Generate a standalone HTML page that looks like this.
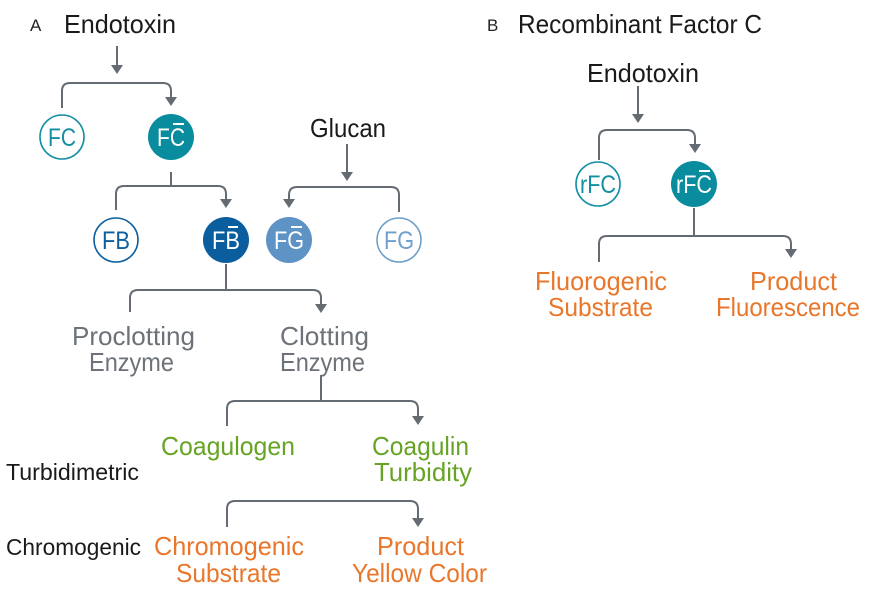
<!DOCTYPE html>
<html><head><meta charset="utf-8"><style>
html,body{margin:0;padding:0;background:#fff;}
svg{display:block;}
text{font-family:"Liberation Sans",sans-serif;}
</style></head><body>
<svg width="869" height="589" viewBox="0 0 869 589" xmlns="http://www.w3.org/2000/svg">
<g fill="none" stroke="#646b72" stroke-width="2">
<line x1="117" y1="46" x2="117" y2="66"/><path d="M111,65 L123,65 L117,74 Z" fill="#646b72" stroke="none"/>
<path d="M62,108 V91 Q62,83 70,83 H163 Q171,83 171,91 V97"/>
<path d="M165,97 L177,97 L171,106 Z" fill="#646b72" stroke="none"/>
<line x1="171" y1="172" x2="171" y2="186"/>
<path d="M116,210 V194 Q116,186 124,186 H218 Q226,186 226,194 V199"/>
<path d="M220,199 L232,199 L226,208 Z" fill="#646b72" stroke="none"/>
<line x1="347" y1="144" x2="347" y2="172"/><path d="M341,172 L353,172 L347,181 Z" fill="#646b72" stroke="none"/>
<path d="M399,212 V195 Q399,187 391,187 H297 Q289,187 289,195 V199"/>
<path d="M283,199 L295,199 L289,208 Z" fill="#646b72" stroke="none"/>
<line x1="226" y1="264" x2="226" y2="290"/>
<path d="M130,312 V298 Q130,290 138,290 H313 Q321,290 321,298 V304"/>
<path d="M315,304 L327,304 L321,313 Z" fill="#646b72" stroke="none"/>
<line x1="321" y1="375" x2="321" y2="401"/>
<path d="M227,426 V409 Q227,401 235,401 H410 Q418,401 418,409 V416"/>
<path d="M412,416 L424,416 L418,425 Z" fill="#646b72" stroke="none"/>
<path d="M227,527 V509 Q227,501 235,501 H410 Q418,501 418,509 V518"/>
<path d="M412,518 L424,518 L418,527 Z" fill="#646b72" stroke="none"/>
<line x1="638" y1="86" x2="638" y2="114"/><path d="M632,114 L644,114 L638,123 Z" fill="#646b72" stroke="none"/>
<path d="M599,160 V138 Q599,130 607,130 H687 Q695,130 695,138 V144"/>
<path d="M689,144 L701,144 L695,153 Z" fill="#646b72" stroke="none"/>
<line x1="694" y1="208" x2="694" y2="236"/>
<path d="M599,262 V244 Q599,236 607,236 H783 Q791,236 791,244 V249"/>
<path d="M785,249 L797,249 L791,258 Z" fill="#646b72" stroke="none"/>
</g>
<circle cx="62" cy="137" r="22" fill="#fff" stroke="#138fa3" stroke-width="1.6"/>
<circle cx="171" cy="137" r="23" fill="#0a8c9f"/>
<circle cx="116" cy="240" r="22" fill="#fff" stroke="#0d5f9e" stroke-width="1.6"/>
<circle cx="226" cy="240" r="23" fill="#0a5e9d"/>
<circle cx="289" cy="240" r="23" fill="#5e93c6"/>
<circle cx="399" cy="240" r="22" fill="#fff" stroke="#6f9fcc" stroke-width="1.6"/>
<circle cx="598" cy="184" r="22" fill="#fff" stroke="#138fa3" stroke-width="1.6"/>
<circle cx="694" cy="184" r="23" fill="#0a8c9f"/>
<g font-size="25" text-anchor="middle">
<text x="62" y="146" fill="#138fa3" textLength="28" lengthAdjust="spacingAndGlyphs">FC</text>
<text x="171" y="146" fill="#fff" textLength="28" lengthAdjust="spacingAndGlyphs">FC</text><line x1="173" y1="124" x2="184" y2="124" stroke="#fff" stroke-width="2"/>
<text x="116" y="249" fill="#0d5f9e" textLength="28" lengthAdjust="spacingAndGlyphs">FB</text>
<text x="226" y="249" fill="#fff" textLength="28" lengthAdjust="spacingAndGlyphs">FB</text><line x1="228" y1="227" x2="238" y2="227" stroke="#fff" stroke-width="2"/>
<text x="289" y="249" fill="#fff" textLength="30" lengthAdjust="spacingAndGlyphs">FG</text><line x1="291" y1="227" x2="302" y2="227" stroke="#fff" stroke-width="2"/>
<text x="399" y="249" fill="#6f9fcc" textLength="30" lengthAdjust="spacingAndGlyphs">FG</text>
<text x="598" y="193" fill="#138fa3" textLength="36" lengthAdjust="spacingAndGlyphs">rFC</text>
<text x="694" y="193" fill="#fff" textLength="36" lengthAdjust="spacingAndGlyphs">rFC</text><line x1="699" y1="171" x2="710" y2="171" stroke="#fff" stroke-width="2"/>
</g>
<g font-size="26">
<text x="30" y="31" font-size="17" fill="#222">A</text>
<text x="64" y="33" fill="#1a1a1a" textLength="112" lengthAdjust="spacingAndGlyphs">Endotoxin</text>
<text x="487" y="31" font-size="17" fill="#222">B</text>
<text x="518" y="33" fill="#1a1a1a" textLength="244" lengthAdjust="spacingAndGlyphs">Recombinant Factor C</text>
<text x="310" y="137" fill="#1a1a1a" textLength="76" lengthAdjust="spacingAndGlyphs">Glucan</text>
<text x="587" y="82" fill="#1a1a1a" textLength="112" lengthAdjust="spacingAndGlyphs">Endotoxin</text>
<g fill="#6d7278">
<text x="72" y="345" textLength="123" lengthAdjust="spacingAndGlyphs">Proclotting</text>
<text x="89" y="371" textLength="85" lengthAdjust="spacingAndGlyphs">Enzyme</text>
<text x="280" y="345" textLength="89" lengthAdjust="spacingAndGlyphs">Clotting</text>
<text x="280" y="371" textLength="85" lengthAdjust="spacingAndGlyphs">Enzyme</text>
</g>
<g fill="#67a325">
<text x="161" y="455" textLength="134" lengthAdjust="spacingAndGlyphs">Coagulogen</text>
<text x="372" y="455" textLength="97" lengthAdjust="spacingAndGlyphs">Coagulin</text>
<text x="374" y="481" textLength="98" lengthAdjust="spacingAndGlyphs">Turbidity</text>
</g>
<g fill="#1a1a1a" font-size="23">
<text x="6" y="480" textLength="133" lengthAdjust="spacingAndGlyphs">Turbidimetric</text>
<text x="6" y="555" textLength="135" lengthAdjust="spacingAndGlyphs">Chromogenic</text>
</g>
<g fill="#e8772c">
<text x="154" y="555" textLength="150" lengthAdjust="spacingAndGlyphs">Chromogenic</text>
<text x="176" y="582" textLength="105" lengthAdjust="spacingAndGlyphs">Substrate</text>
<text x="377" y="555" textLength="87" lengthAdjust="spacingAndGlyphs">Product</text>
<text x="352" y="582" textLength="135" lengthAdjust="spacingAndGlyphs">Yellow Color</text>
<text x="535" y="290" textLength="132" lengthAdjust="spacingAndGlyphs">Fluorogenic</text>
<text x="548" y="316" textLength="105" lengthAdjust="spacingAndGlyphs">Substrate</text>
<text x="750" y="290" textLength="87" lengthAdjust="spacingAndGlyphs">Product</text>
<text x="716" y="316" textLength="144" lengthAdjust="spacingAndGlyphs">Fluorescence</text>
</g>
</g>
</svg>
</body></html>
